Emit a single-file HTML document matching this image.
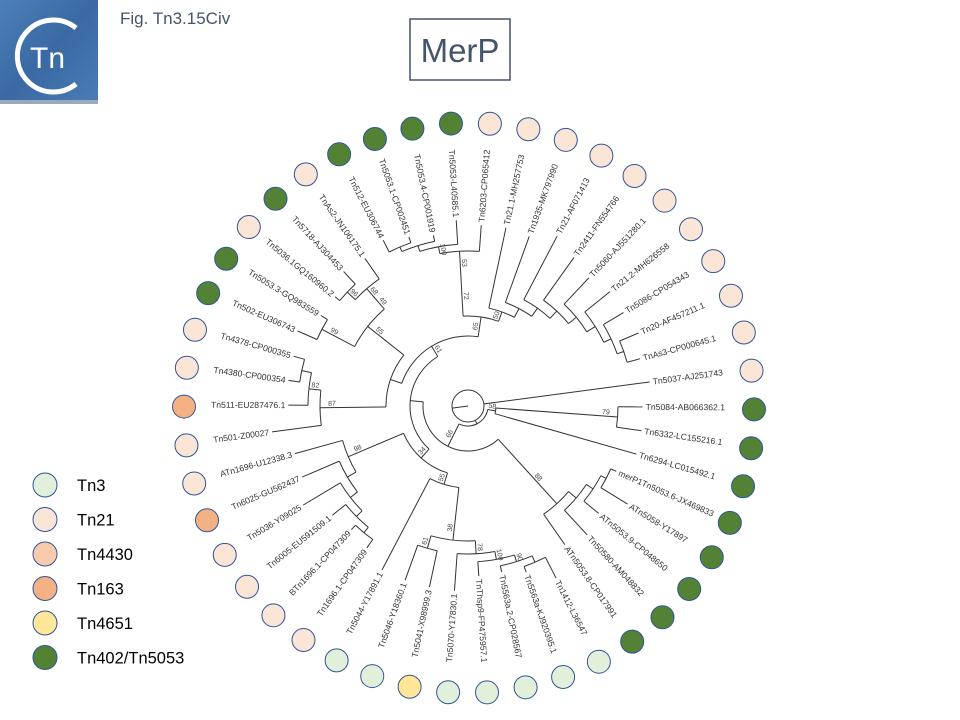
<!DOCTYPE html>
<html><head><meta charset="utf-8"><style>
body{margin:0;background:#fff;}
#wrap{position:relative;width:960px;height:720px;overflow:hidden;font-family:"Liberation Sans",sans-serif;}
</style></head><body>
<div id="wrap">
<svg id="svg" width="960" height="720" viewBox="0 0 960 720">
  <defs>
    <linearGradient id="lg" x1="0" y1="0" x2="1" y2="1">
      <stop offset="0" stop-color="#4d7fb8"/><stop offset="0.5" stop-color="#3a69a3"/><stop offset="1" stop-color="#4a7cb5"/>
    </linearGradient>
  </defs>
  <g>
    <rect x="0" y="0" width="98" height="103" fill="url(#lg)"/>
    <rect x="0" y="100" width="98" height="4" fill="#9aa9bb"/>
    <path d="M 76 28 A 36 36 0 1 0 76 84" fill="none" stroke="#fff" stroke-width="5"/>
    <text x="30" y="68" font-size="30" fill="#fff" font-family="Liberation Sans, sans-serif">Tn</text>
  </g>
  <text x="120" y="24" font-size="17" fill="#44546a">Fig. Tn3.15Civ</text>
  <rect x="410" y="19" width="100" height="61" fill="none" stroke="#44546a" stroke-width="1.5"/>
  <text x="460" y="62" font-size="33" fill="#44546a" text-anchor="middle">MerP</text>
  <g id="tree"></g>
  <g id="dots"></g>
  <g id="legend"></g>
</svg>
</div>
<script>
const leafNames = ["Tn5037-AJ251743","Tn5084-AB066362.1","Tn6332-LC155216.1","Tn6294-LC015492.1","merP1Tn5053.6-JX469833","ATn5058-Y17897","ATn5053.9-CP048650","Tn50580-AM048832","ATn5053.8-CP017991",
"Tn1412-L36547","Tn5563a-KJ920395.1","Tn5563a.2-CP028567","TnThsp9-FP475957.1","Tn5070-Y17830.1","Tn5041-X98999.3","Tn5046-Y18360.1","Tn5044-Y17891.1",
"Tn1696.1-CP047309","BTn1696.1-CP047309","Tn6005-EU591509.1","Tn5036-Y09025","Tn6025-GU562437","ATn1696-U12338.3",
"Tn501-Z00027","Tn511-EU287476.1","Tn4380-CP000354","Tn4378-CP000355","Tn502-EU306743","Tn5053.3-GQ983559","Tn5036.1GQ160960.2","Tn5718-AJ304453","TnAs2-JN106175.1","Tn512-EU306744","Tn5053.1-CP002451","Tn5053.4-CP001919","Tn5053-L40585.1",
"Tn6203-CP065412","Tn21.1-MH257753","Tn1935-MK797990","Tn21-AF071413","Tn2411-FN554766","Tn5060-AJ551280.1","Tn21.2-MH626558","Tn5086-CP054343","Tn20-AF457211.1","TnAs3-CP000645.1"];
const leafGroups = ["Tn21","Tn402","Tn402","Tn402","Tn402","Tn402","Tn402","Tn402","Tn402",
"Tn3","Tn3","Tn3","Tn3","Tn3","Tn4651","Tn3","Tn3",
"Tn21","Tn21","Tn21","Tn21","Tn163","Tn21",
"Tn21","Tn163","Tn21","Tn21","Tn402","Tn402","Tn21","Tn402","Tn21","Tn402","Tn402","Tn402","Tn402",
"Tn21","Tn21","Tn21","Tn21","Tn21","Tn21","Tn21","Tn21","Tn21","Tn21"];
const legendNames = ["Tn3","Tn21","Tn4430","Tn163","Tn4651","Tn402/Tn5053"];
const legendKeys = ["Tn3","Tn21","Tn4430","Tn163","Tn4651","Tn402"];
const groupColors = {Tn3:"#e2efda",Tn21:"#fbe5d6",Tn4430:"#f8cbad",Tn163:"#f4b183",Tn4651:"#ffe699",Tn402:"#548235"};

const treeRoot = {r:16,c:[0,{r:20,c:[
  {r:28,b:"58",c:[{r:150,b:"79",c:[1,2]},3]},
  {r:45,b:"66",c:[
    {r:112,b:"88",c:[{r:132,c:[{r:142,c:[{r:150,c:[{r:156,c:[4,5]},6]},7]},8]}]},
    {r:58,c:[
      {r:70,b:"34",c:[
        {r:82,b:"55",c:[{r:135,b:"38",c:[{r:148,b:"78",c:[{r:156,b:"100",c:[{r:163,b:"90",c:[{r:170,c:[9,10]},11]},12]},13]},{r:148,b:"61",c:[14,15]}]},16]},
        {r:130,b:"98",c:[{r:140,c:[{r:149,c:[{r:157,c:[{r:164,c:[17,18]},19]},20]},21]},22]}
      ]},
      {r:70,b:"61",c:[
        {r:82,c:[
          {r:148,b:"87",c:[23,{r:160,b:"82",c:[24,{r:170,c:[25,26]}]}]},
          {r:128,b:"55",c:[{r:165,b:"99",c:[27,28]},{r:142,b:"49",c:[{r:155,b:"68",c:[{r:166,b:"96",c:[29,30]},31]}]}]}
        ]},
        {r:90,b:"65",c:[
          {r:122,b:"72",c:[{r:155,b:"53",c:[{r:162,b:"100",c:[{r:168,c:[{r:173,c:[32,33]},34]},35]},36]}]},
          {r:100,b:"50",c:[37,{r:110,c:[38,{r:120,c:[39,{r:130,c:[40,{r:140,c:[41,{r:150,c:[42,{r:158,c:[43,{r:165,c:[44,45]}]}]}]}]}]}]}]}
        ]}
      ]}
    ]}
  ]}
]}]};

const CX=468, CY=406, START=-7.54, STEP=360/46, LABEL_END=258;
const NS="http://www.w3.org/2000/svg";
const treeG=document.getElementById('tree');
const dotsG=document.getElementById('dots');
const legG=document.getElementById('legend');
function ang(i){return START+i*STEP;}
function pt(r,a){const t=a*Math.PI/180;return [CX+r*Math.cos(t),CY+r*Math.sin(t)];}
function mk(tag,attrs,parent){const e=document.createElementNS(NS,tag);for(const k in attrs)e.setAttribute(k,attrs[k]);parent.appendChild(e);return e;}

const parentR=[];
function recordParents(n){n.c.forEach(c=>{if(typeof c==='number')parentR[c]=n.r;else recordParents(c);});}
recordParents(treeRoot);

const tips=[];
leafNames.forEach((nm,i)=>{
  const a=ang(i);const flip=Math.cos(a*Math.PI/180)<0;
  const t=mk('text',{'font-size':'8.6',fill:'#333'},treeG);
  t.textContent=nm;
  
  
  const len=t.getComputedTextLength();
  const tip=Math.max(LABEL_END-len-4,(parentR[i]||0)+6);
  tips[i]=tip;
  if(flip){t.setAttribute('transform',`translate(${CX},${CY}) rotate(${a+180})`);t.setAttribute('x',-(tip+3));t.setAttribute('text-anchor','end');}
  else{t.setAttribute('transform',`translate(${CX},${CY}) rotate(${a})`);t.setAttribute('x',tip+3);}
  t.setAttribute('y',3);
});

function nodeAngle(n){if(typeof n==='number')return ang(n);const f=nodeAngle(n.c[0]),l=nodeAngle(n.c[n.c.length-1]);return (f+l)/2;}
function line(r1,r2,a){const p=pt(r1,a),q=pt(r2,a);const l=mk('line',{x1:p[0],y1:p[1],x2:q[0],y2:q[1],stroke:'#333','stroke-width':1},treeG);
  
  }
function arc(r,a1,a2){if(Math.abs(a2-a1)<0.01)return;const p=pt(r,a1),q=pt(r,a2);const large=(a2-a1)>180?1:0;
  const e=mk('path',{d:`M${p[0]} ${p[1]} A${r} ${r} 0 ${large} 1 ${q[0]} ${q[1]}`,fill:'none',stroke:'#333','stroke-width':1},treeG);
  
  }
function draw(n,pr){
  if(typeof n==='number'){line(pr,tips[n],ang(n));return;}
  const a=nodeAngle(n);
  if(pr!==null)line(pr,n.r,a);
  if(n.b&&pr!==null){const p=pt(Math.max((pr+n.r)/2,n.r-12),a);
    const flip=Math.cos(a*Math.PI/180)<0;
    const bt=mk('text',{'font-size':'7',fill:'#444','text-anchor':'middle',transform:`translate(${p[0]},${p[1]}) rotate(${flip?a+180:a})`,y:-2},treeG);
    bt.textContent=n.b;
    
    }
  arc(n.r,nodeAngle(n.c[0]),nodeAngle(n.c[n.c.length-1]));
  n.c.forEach(c=>draw(c,n.r));
}
const rc=mk('circle',{cx:CX,cy:CY,r:16,fill:'none',stroke:'#333','stroke-width':1},treeG);


line(0,16,ang(0)+180);
treeRoot.c.forEach(c=>draw(c,16));

leafGroups.forEach((g,i)=>{
  const p=pt(285,ang(i));
  const c=mk('circle',{cx:p[0]+1,cy:p[1]+2,r:11.5,fill:groupColors[g],stroke:'#2f5597','stroke-width':1},dotsG);
  
  
});
legendNames.forEach((nm,i)=>{
  const y=485+i*34.5;
  const c=mk('circle',{cx:45,cy:y,r:12,fill:groupColors[legendKeys[i]],stroke:'#2f5597','stroke-width':1},legG);
  
  
  const t=mk('text',{x:77,y:y+6,'font-size':'16.5',fill:'#000'},legG);
  t.textContent=nm;
  
  
});
</script>
</body></html>
